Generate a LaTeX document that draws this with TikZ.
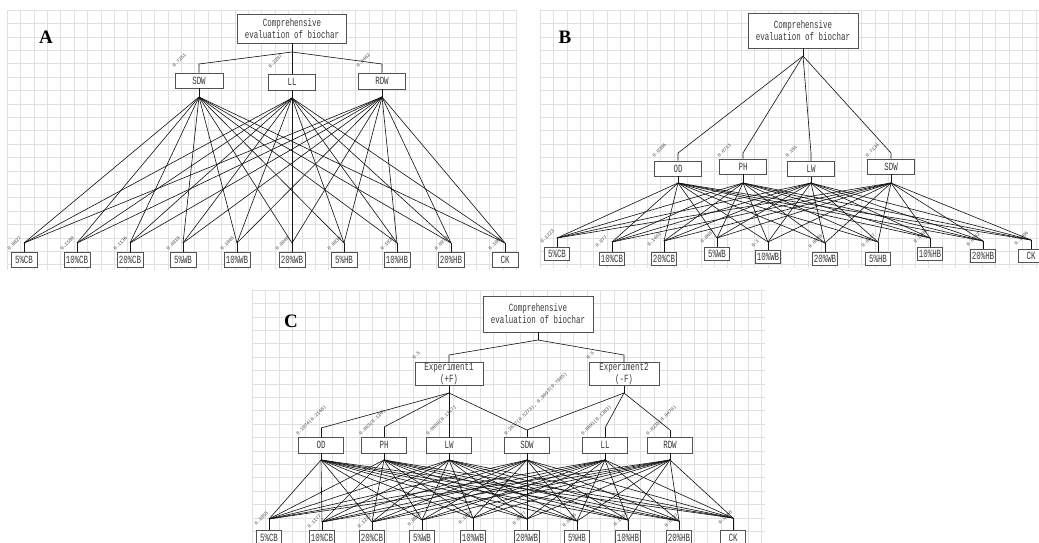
\documentclass[tikz,border=0pt]{standalone}
\usepackage{fontspec}
\newfontfamily\boxfont[FakeStretch=0.68]{Liberation Mono}
\newfontfamily\lblfont{Liberation Mono}
\newfontfamily\panelfont{Liberation Serif}
\tikzset{
  gridline/.style={draw=black!12, line width=0.4pt},
  box/.style={draw=black!68, line width=0.8pt, fill=white, inner sep=0pt, text=black!78,
    font=\boxfont\fontsize{11}{12}\selectfont, align=center},
  conn/.style={draw=black!92, line width=0.62pt},
  wlabel/.style={font=\lblfont\fontsize{4.8}{5}\selectfont, rotate=45, anchor=west, inner sep=0pt, text=black!75},
  paneltag/.style={font=\panelfont\bfseries\fontsize{19}{19}\selectfont},
}
\begin{document}
\begin{tikzpicture}[x=1pt,y=-1pt]
\useasboundingbox (0,0) rectangle (1039,543);
% ---------------- grids
\foreach \x in {7,20.4,...,517} \draw[gridline] (\x,10) -- (\x,270);
\foreach \y in {10,23.4,...,270} \draw[gridline] (7,\y) -- (517,\y);
\foreach \x in {540,553.4,...,1039} \draw[gridline] (\x,10) -- (\x,268);
\foreach \y in {10,23.4,...,268} \draw[gridline] (540,\y) -- (1039,\y);
\foreach \x in {252,265.4,...,765} \draw[gridline] (\x,290) -- (\x,543);
\foreach \y in {290,303.4,...,543} \draw[gridline] (252,\y) -- (765,\y);

% ================= Panel A
\node[paneltag] (A-tag) at (46,37) {A};
\node[box, minimum width=109, minimum height=29] (A-top) at (292,28.5) {Comprehensive\\evaluation of biochar};
\coordinate (A-j) at (292,52);
\draw[conn] (A-top.south) -- (A-j);
\node[box, minimum width=48, minimum height=15] (A-m1) at (199,80.5) {SDW};
\node[box, minimum width=47, minimum height=16] (A-m2) at (292,82) {LL};
\node[box, minimum width=47, minimum height=16] (A-m3) at (382,81) {RDW};
\coordinate (A-e1) at (199,64);
\coordinate (A-e3) at (382,64);
\draw[conn] (A-j) -- (A-e1) -- (A-m1.north);
\draw[conn] (A-j) -- (A-m2.north);
\draw[conn] (A-j) -- (A-e3) -- (A-m3.north);
\node[wlabel] (A-l1) at (173,67) {0.7251};
\node[wlabel] (A-l2) at (269,68) {0.2287};
\node[wlabel] (A-l3) at (357,67) {0.0462};
\coordinate (A-mj1) at (199,97);
\coordinate (A-mj2) at (292,98);
\coordinate (A-mj3) at (382,97);
\foreach \m in {1,2,3} \draw[conn] (A-m\m.south) -- (A-mj\m);
\foreach \i/\x/\t/\v in {1/24/5\%CB/0.0827, 2/77/10\%CB/0.1180, 3/130/20\%CB/0.1136,
    4/183/5\%WB/0.0918, 5/237/10\%WB/0.1045, 6/292/20\%WB/0.0948, 7/344/5\%HB/0.0938,
    8/397/10\%HB/0.1026, 9/451/20\%HB/0.0973, 10/505/CK/0.1009}{
  \node[box, minimum width=26, minimum height=15] (A-b\i) at (\x,259.5) {\t};
  \coordinate (A-bj\i) at (\x,243);
  \draw[conn] (A-bj\i) -- (A-b\i.north);
  \node[wlabel] (A-bl\i) at (\x-16,250) {\v};
}
\foreach \m in {1,2,3}{\foreach \i in {1,...,10}{\draw[conn] (A-mj\m) -- (A-bj\i);}}

% ================= Panel B
\node[paneltag] (B-tag) at (565,37) {B};
\node[box, minimum width=110, minimum height=35] (B-top) at (803,30.5) {Comprehensive\\evaluation of biochar};
\coordinate (B-j) at (803,56);
\draw[conn] (B-top.south) -- (B-j);
\foreach \m/\x/\y/\t/\v in {1/678/168.5/OD/0.0386, 2/743/166.5/PH/0.0711, 3/811/169/LW/0.181, 4/891/166.5/SDW/0.7134}{
  \node[box, minimum width=47, minimum height=15] (B-m\m) at (\x,\y) {\t};
  \coordinate (B-e\m) at (\x,153);
  \coordinate (B-mj\m) at (\x,183);
  \draw[conn] (B-j) -- (B-e\m) -- (B-m\m.north);
  \draw[conn] (B-m\m.south) -- (B-mj\m);
  \node[wlabel] (B-l\m) at (\x-25,157) {\v};
}
\foreach \i/\x/\jy/\by/\t/\v in {1/557/238/254/5\%CB/0.1223, 2/612/242/258.5/10\%CB/0.077,
    3/664/241/258.5/20\%CB/0.1401, 4/717/238/254/5\%WB/0.0687, 5/768/242/256.5/10\%WB/0.1,
    6/825/243/258.5/20\%WB/0.0898, 7/878/242/258.5/5\%HB/0.0847, 8/930/238/254/10\%HB/0.1099,
    9/983/241/255.5/20\%HB/0.0942, 10/1031/240/256/CK/0.1006}{
  \node[box, minimum width=25, minimum height=13] (B-b\i) at (\x,\by) {\t};
  \coordinate (B-bj\i) at (\x,\jy);
  \draw[conn] (B-bj\i) -- (B-b\i.north);
  \node[wlabel] (B-bl\i) at (\x-16,\jy+5) {\v};
}
\foreach \m in {1,...,4}{\foreach \i in {1,...,10}{\draw[conn] (B-mj\m) -- (B-bj\i);}}

% ================= Panel C
\node[paneltag] (C-tag) at (291,321) {C};
\node[box, minimum width=110, minimum height=36] (C-top) at (538,314) {Comprehensive\\evaluation of biochar};
\coordinate (C-j) at (538,340);
\draw[conn] (C-top.south) -- (C-j);
\node[box, minimum width=68, minimum height=22] (C-x1) at (449,374) {Experiment1\\(+F)};
\node[box, minimum width=70, minimum height=22] (C-x2) at (624,374) {Experiment2\\(-F)};
\coordinate (C-xe1) at (449,355);
\coordinate (C-xe2) at (624,355);
\draw[conn] (C-j) -- (C-xe1) -- (C-x1.north);
\draw[conn] (C-j) -- (C-xe2) -- (C-x2.north);
\node[wlabel] (C-xl1) at (413,359) {0.5};
\node[wlabel] (C-xl2) at (587,359) {0.5};
\coordinate (C-xj1) at (449,393);
\coordinate (C-xj2) at (624,393);
\draw[conn] (C-x1.south) -- (C-xj1);
\draw[conn] (C-x2.south) -- (C-xj2);
\foreach \m/\x/\ey/\t in {1/321/428/OD, 2/384/427/PH, 3/449/425/LW, 4/527/430/SDW, 5/605/428/LL, 6/670/430/RDW}{
  \node[box, minimum width=45, minimum height=16] (C-m\m) at (\x,445) {\t};
  \coordinate (C-e\m) at (\x,\ey);
  \coordinate (C-mj\m) at (\x,460);
  \draw[conn] (C-e\m) -- (C-m\m.north);
  \draw[conn] (C-m\m.south) -- (C-mj\m);
}
\foreach \m in {1,2,3,4} \draw[conn] (C-xj1) -- (C-e\m);
\foreach \m in {4,5,6} \draw[conn] (C-xj2) -- (C-e\m);
\node[wlabel] (C-l1) at (297,435) {0.1074(0.2148)};
\node[wlabel] (C-l2) at (360,435) {0.063(0.126)};
\node[wlabel] (C-l3) at (427,435) {0.0659(0.1317)};
\node[wlabel] (C-l4) at (505,435) {0.2637(0.5273), 0.3993(0.7985)};
\node[wlabel] (C-l5) at (582,435) {0.0691(0.1383)};
\node[wlabel] (C-l6) at (647,435) {0.0235(0.0470)};
\foreach \i/\x/\jy/\t/\v in {1/269/519/5\%CB/0.1055, 2/322/522/10\%CB/0.1177, 3/372/522/20\%CB/0.1212,
    4/422/520/5\%WB/0.0846, 5/473/518/10\%WB/0.1006, 6/527/519/20\%WB/0.0977, 7/577/521/5\%HB/0.0896,
    8/628/520/10\%HB/0.1034, 9/679/521/20\%HB/0.0937, 10/733/518/CK/0.0860}{
  \node[box, minimum width=25, minimum height=16] (C-b\i) at (\x,538) {\t};
  \coordinate (C-bj\i) at (\x,\jy);
  \draw[conn] (C-bj\i) -- (C-b\i.north);
  \node[wlabel] (C-bl\i) at (\x-14,\jy+6) {\v};
}
\foreach \m in {1,...,6}{\foreach \i in {1,...,10}{\draw[conn] (C-mj\m) -- (C-bj\i);}}
\end{tikzpicture}
\end{document}
